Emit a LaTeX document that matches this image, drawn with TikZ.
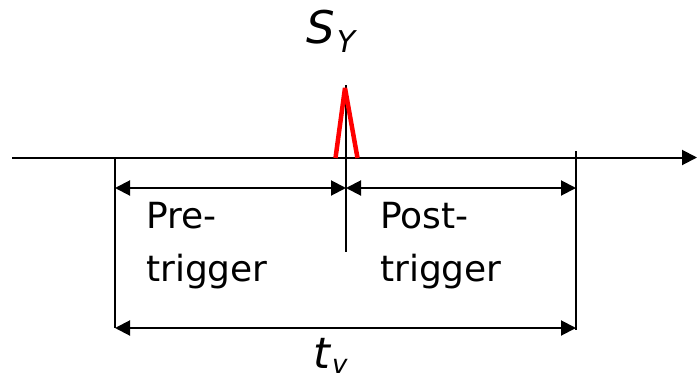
\documentclass[tikz,border=0pt]{standalone}
\usepackage{fontspec}
\setmainfont{DejaVu Sans}
\usetikzlibrary{arrows.meta}
\begin{document}
\begin{tikzpicture}[x=1pt,y=-1pt,
  ln/.style={line width=2pt},
  tip/.tip={Triangle[length=15pt,width=15pt]},
  dim/.style={line width=2pt,tip-tip},
  lbl/.style={font=\fontsize{36}{53.5}\selectfont,align=left,anchor=north west,inner sep=0pt},
  sym/.style={inner sep=0pt,anchor=base west}]
\useasboundingbox (0,0) rectangle (697,381);
% axis
\coordinate (a0) at (12,157.5);
\coordinate (a1) at (697,157.5);
\draw[ln,-tip] (a0) -- (a1);
% verticals
\coordinate (l0) at (115,157.5); \coordinate (l1) at (115,328);
\coordinate (r0) at (576,151); \coordinate (r1) at (576,330);
\coordinate (m0) at (346,85);  \coordinate (m1) at (346,252);
\draw[ln] (l0) -- (l1);
\draw[ln] (r0) -- (r1);
\draw[ln] (m0) -- (m1);
% red spike
\coordinate (s0) at (335.5,158); \coordinate (s1) at (345,88); \coordinate (s2) at (357.5,158);
\draw[red,line width=4.5pt,line join=bevel] (s0) -- (s1) -- (s2);
% dimension arrows
\coordinate (p0) at (115,188); \coordinate (p1) at (346,188); \coordinate (p2) at (576,188);
\draw[dim] (p0) -- (p1);
\draw[dim] (p1) -- (p2);
\coordinate (t0) at (115,328); \coordinate (t1) at (576,328);
\draw[dim] (t0) -- (t1);
% labels
\node[lbl] (pre) at (146,202) {Pre-\\trigger};
\node[lbl] (post) at (380,202) {Post-\\trigger};
\node[sym] (sy) at (306,43) {\fontsize{45}{45}\selectfont\itshape S\kern2pt\raisebox{-9pt}{\fontsize{30}{30}\selectfont Y}};
\node[sym] (tv) at (313,368) {\fontsize{43}{43}\selectfont\itshape t\kern2pt\raisebox{-5pt}{\fontsize{26}{26}\selectfont v}};
\end{tikzpicture}
\end{document}
